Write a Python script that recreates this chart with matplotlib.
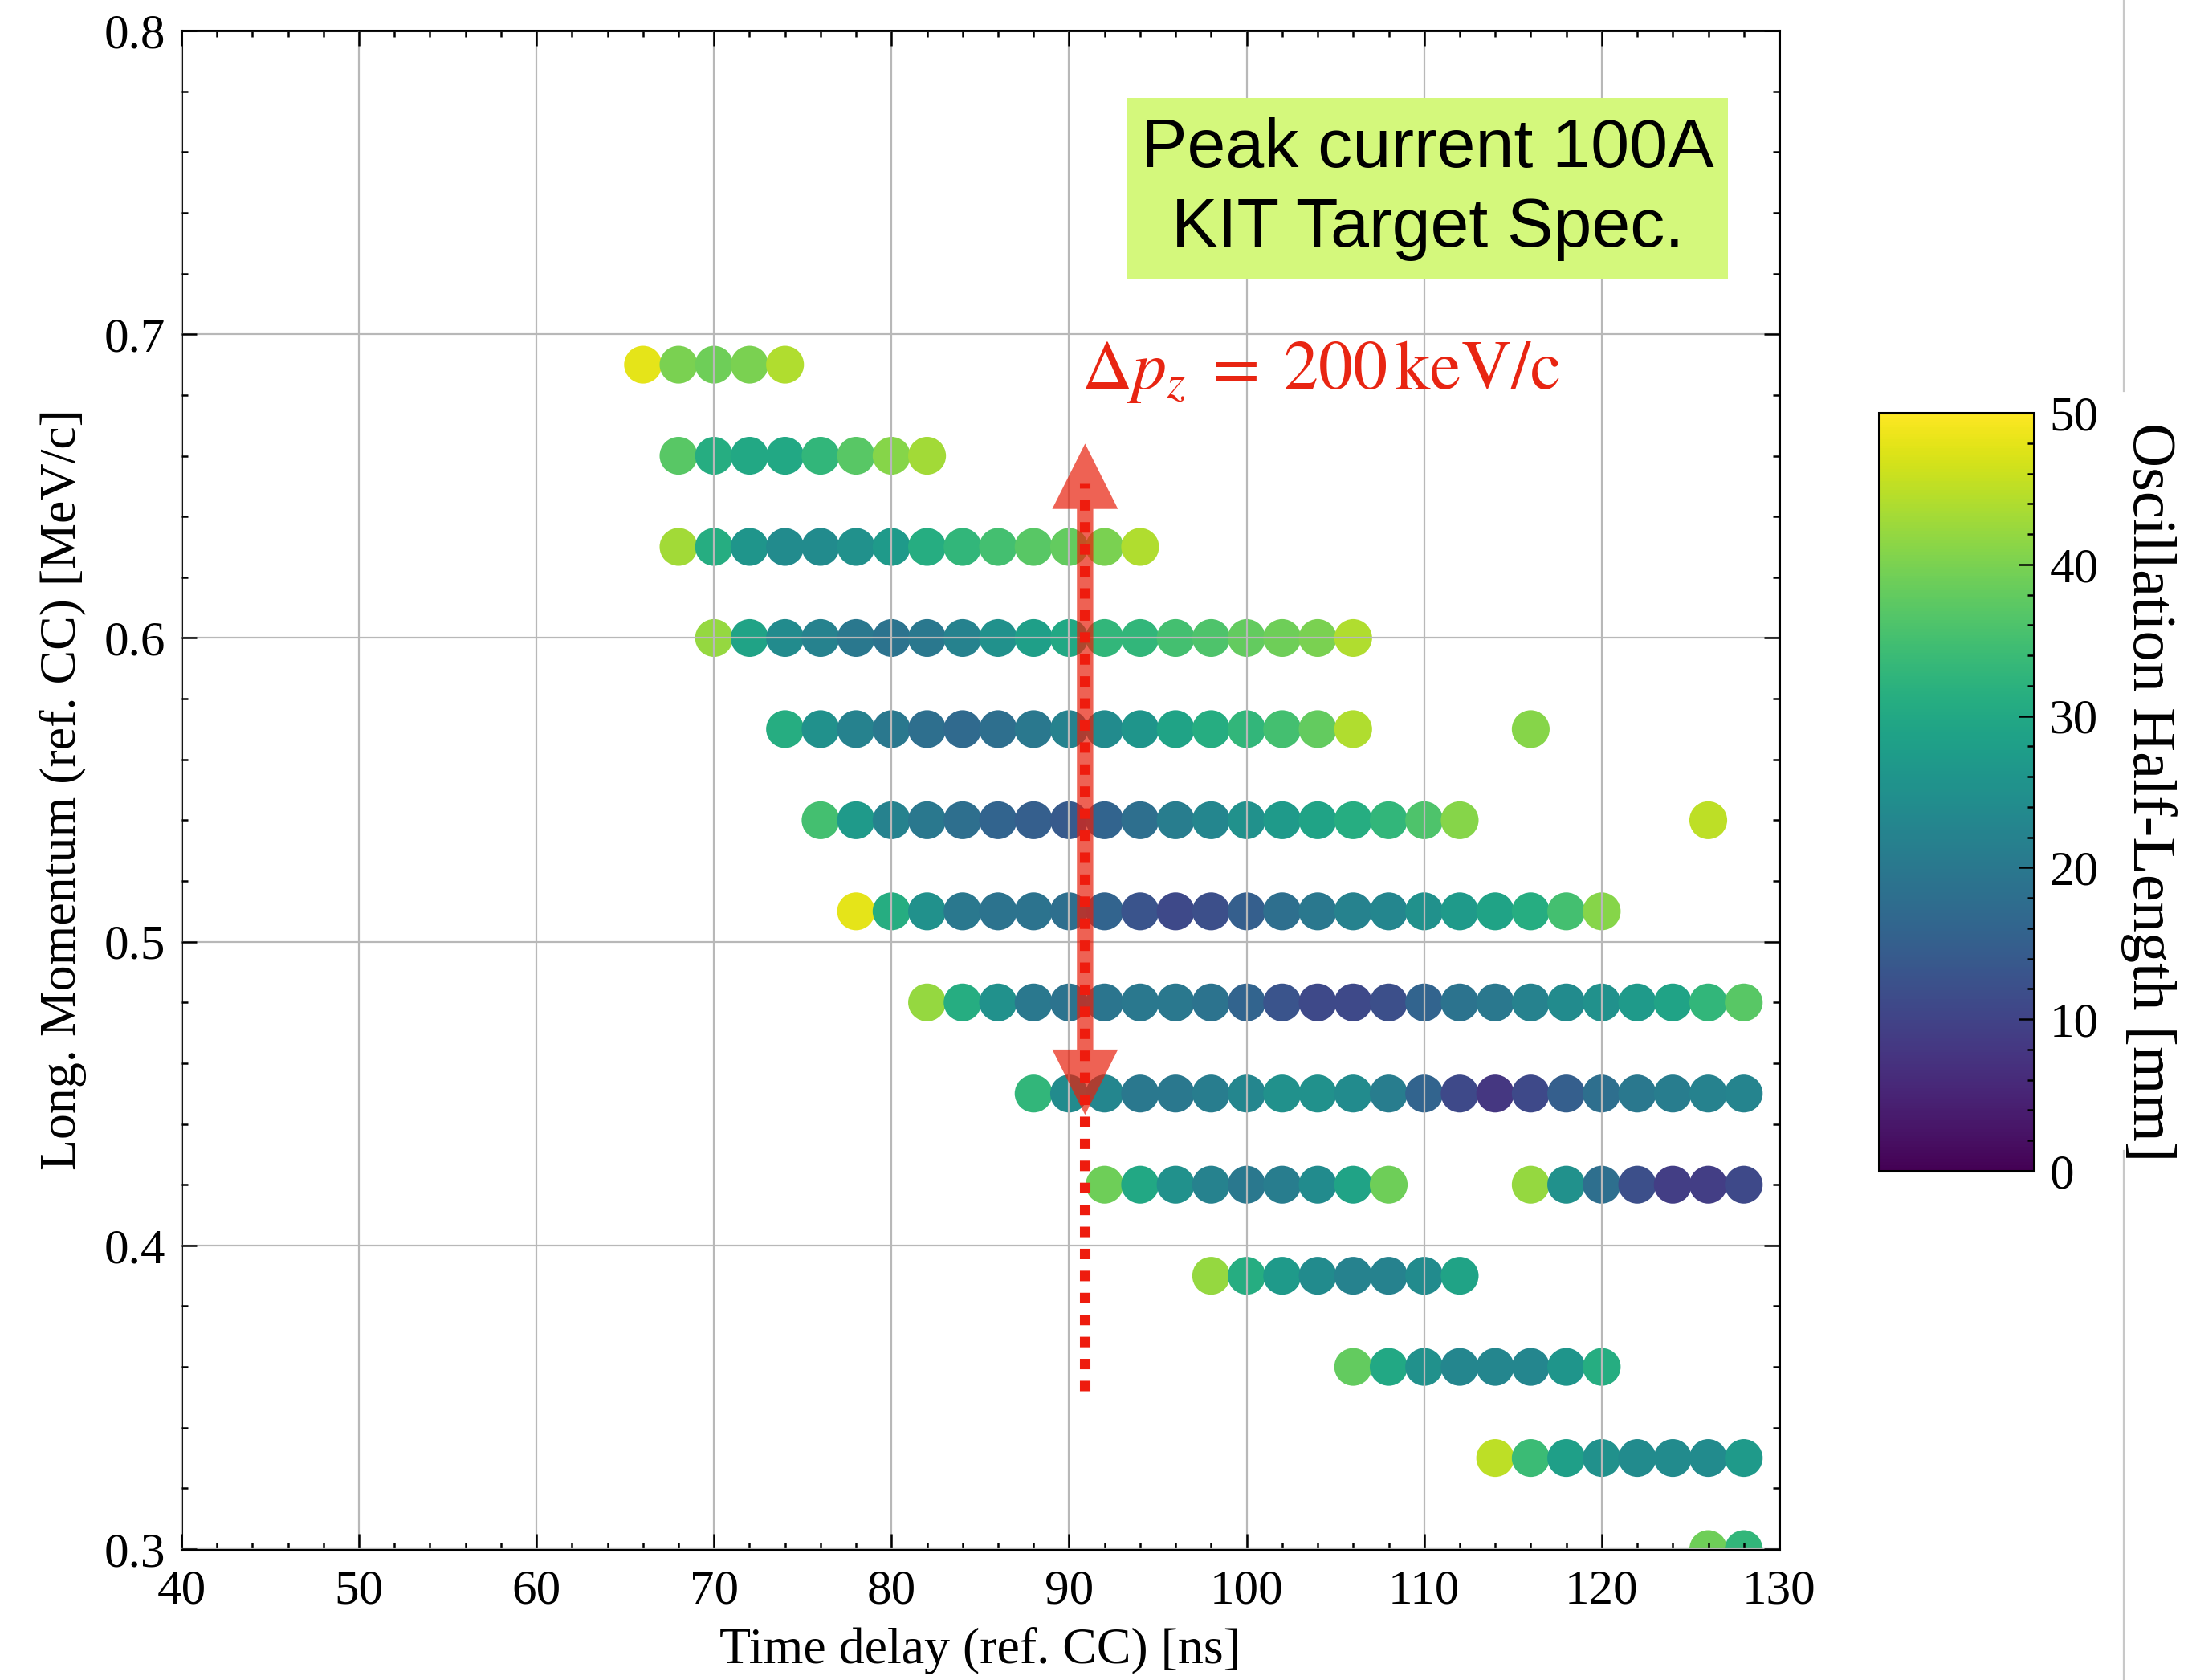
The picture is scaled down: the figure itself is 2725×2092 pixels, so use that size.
import matplotlib
matplotlib.use('Agg')
import matplotlib.pyplot as plt
import numpy as np
from matplotlib.patches import Polygon, Rectangle
from matplotlib.lines import Line2D
from matplotlib.ticker import MultipleLocator

plt.rcParams['font.family'] = ['Liberation Serif', 'DejaVu Serif']
plt.rcParams['mathtext.fontset'] = 'stix'


def span(a, b):
    # scan grid points, 2 ns step
    return list(range(a, b + 1, 2))


# momentum rows [MeV/c]
momentum = [0.69, 0.66, 0.63, 0.60, 0.57, 0.54, 0.51, 0.48, 0.45, 0.42, 0.39, 0.36, 0.33, 0.30]

# time delays per row [ns]
delays = [
    span(66, 74),
    span(68, 82),
    span(68, 94),
    span(70, 106),
    span(74, 106) + [116],
    span(76, 112) + [126],
    span(78, 120),
    span(82, 128),
    span(88, 128),
    span(92, 108) + span(116, 128),
    span(98, 112),
    span(106, 120),
    span(114, 128),
    [126, 128],
]

# oscillation half-length per point [mm]
half_length = [
    [48, 40, 39, 40, 44],
    [37, 31, 30, 30, 33, 37, 41, 43],
    [43, 31, 26, 24, 24, 25, 27, 31, 33, 35, 37, 38, 40, 44],
    [42, 29, 24, 22, 20, 19, 20, 22, 25, 28, 30, 33, 33, 35, 36, 38, 39, 40, 44],
    [31, 25, 22, 20, 18, 17, 18, 20, 22, 24, 26, 29, 31, 33, 35, 38, 44, 41],
    [35, 27, 22, 20, 18, 16, 15, 14, 16, 18, 21, 23, 25, 27, 29, 31, 33, 36, 41, 45],
    [48, 31, 25, 20, 19, 19, 18, 16, 13, 11, 12, 15, 18, 20, 22, 23, 25, 27, 29, 31, 35, 41],
    [42, 31, 25, 20, 19, 19.5, 20, 20, 19, 16, 13, 11, 11, 12, 16, 19, 20, 22, 24, 25, 27, 29, 33, 37],
    [33, 24, 23, 20, 20, 21, 23, 25, 25, 24, 21, 16, 11, 8, 11, 15, 18, 20, 21, 22, 22.5],
    [39, 30, 25, 22, 20, 21, 24, 29, 39, 42, 25, 18, 12, 9, 9, 11],
    [42, 31, 27, 24, 22, 22, 24, 29],
    [38, 30, 25, 23, 23, 23, 26, 31],
    [45, 34, 28, 25, 24, 24, 24, 27],
    [39, 33],
]

# delta p_z marker
dp_x = 90.9
dp_lo, dp_hi = 0.443, 0.664
dotted_lo, dotted_hi = 0.352, 0.651

x = np.concatenate([np.array(d, dtype=float) for d in delays])
y = np.concatenate([np.full(len(d), p) for p, d in zip(momentum, delays)])
c = np.concatenate([np.array(v, dtype=float) for v in half_length])

fig = plt.figure(figsize=(27.25, 20.92), dpi=100)
ax = fig.add_axes([0.0829, 0.0779, 0.7303, 0.9039])

sc = ax.scatter(x, y, c=c, cmap='viridis', vmin=0, vmax=50, s=1150, linewidths=0, zorder=1)

ax.set_xlim(40, 130)
ax.set_ylim(0.3, 0.8)
ax.xaxis.set_major_locator(MultipleLocator(10))
ax.xaxis.set_minor_locator(MultipleLocator(2))
ax.yaxis.set_major_locator(MultipleLocator(0.1))
ax.yaxis.set_minor_locator(MultipleLocator(0.02))
ax.grid(True, which='major', color='#b8b8b8', lw=1.6)
ax.set_axisbelow(False)
ax.tick_params(which='both', direction='in', top=True, right=True, labelsize=44, width=1.8)
ax.tick_params(which='major', length=14)
ax.tick_params(which='minor', length=6)
ax.tick_params(axis='x', pad=18)
ax.tick_params(axis='y', pad=14)
for s in ax.spines.values():
    s.set_linewidth(2.2)

ax.set_xlabel('Time delay (ref. CC) [ns]', fontsize=46, labelpad=12)
ax.set_ylabel('Long. Momentum (ref. CC) [MeV/c]', fontsize=46, labelpad=16)

# double-headed arrow for delta p_z
shaft = 0.46
head = 1.85
head_len = 0.0215
arrow = Polygon([
    (dp_x, dp_hi), (dp_x + head, dp_hi - head_len), (dp_x + shaft, dp_hi - head_len),
    (dp_x + shaft, dp_lo + head_len), (dp_x + head, dp_lo + head_len), (dp_x, dp_lo),
    (dp_x - head, dp_lo + head_len), (dp_x - shaft, dp_lo + head_len),
    (dp_x - shaft, dp_hi - head_len), (dp_x - head, dp_hi - head_len)],
    closed=True, facecolor='#e8200c', edgecolor='none', alpha=0.7, zorder=3)
ax.add_patch(arrow)
ax.plot([dp_x, dp_x], [dotted_lo, dotted_hi], color='#ee1c0e', lw=9.4,
        linestyle=(0, (1.0, 1.1)), solid_capstyle='butt', dash_capstyle='butt', zorder=4)

ax.text(90.7, 0.682, r'$\Delta p_z\;=\;200\,\mathrm{keV/c}$', color='#e82512', fontsize=62,
        ha='left', va='baseline', zorder=5)

# info box
ax.add_patch(Rectangle((0.592, 0.836), 0.376, 0.1196, transform=ax.transAxes,
                       facecolor='#d4f87c', edgecolor='none', zorder=5))
ax.text(0.780, 0.8955, 'Peak current 100A\nKIT Target Spec.', transform=ax.transAxes,
        family=['Liberation Sans', 'DejaVu Sans'], fontsize=62, ha='center', va='center',
        linespacing=1.3, zorder=6)

# colorbar
cax = fig.add_axes([0.8587, 0.3031, 0.0708, 0.4512])
cb = fig.colorbar(sc, cax=cax)
cb.set_ticks([0, 10, 20, 30, 40, 50])
cax.yaxis.set_minor_locator(MultipleLocator(2))
cax.tick_params(which='both', direction='in', labelsize=44, width=1.8, pad=14)
cax.tick_params(which='major', length=14)
cax.tick_params(which='minor', length=6)
cb.outline.set_linewidth(2.2)
cb.set_label('Oscillation Half-Length [mm]', rotation=270, va='bottom', fontsize=55, labelpad=20)

# slide separator
fig.lines.append(Line2D([0.9706, 0.9706], [1.0, 1 - 487 / 2092], transform=fig.transFigure,
                        color='#c8c8c8', lw=1.6, zorder=-1))
fig.lines.append(Line2D([0.9706, 0.9706], [1 - 1433 / 2092, 0.0], transform=fig.transFigure,
                        color='#c8c8c8', lw=1.6, zorder=-1))

fig.savefig('out.png', dpi=100, facecolor='white')
